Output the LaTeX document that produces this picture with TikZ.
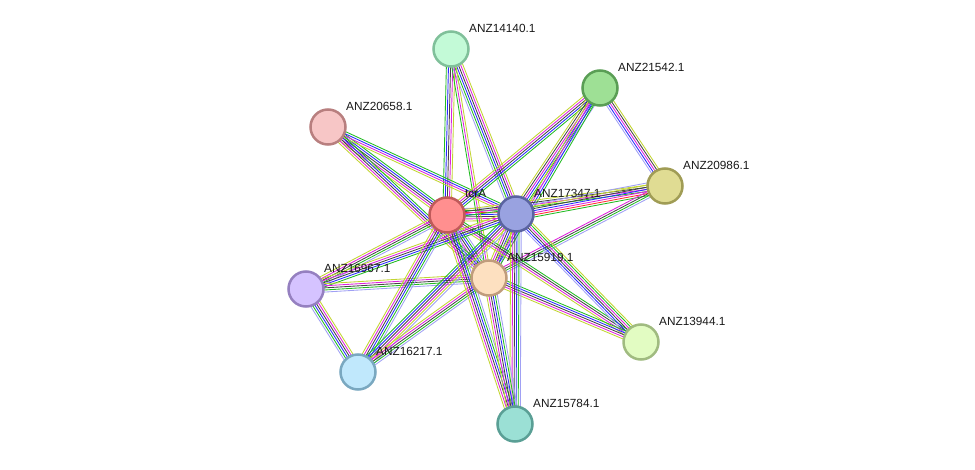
\documentclass[tikz,border=0pt]{standalone}
\usepackage{fontspec}
\setmainfont{Liberation Sans}
\usetikzlibrary{calc}
\pgfdeclarelayer{bg}
\pgfsetlayers{bg,main}
\definecolor{ehom}{HTML}{A0A0F4}
\definecolor{egre}{HTML}{22BB22}
\definecolor{eblu}{HTML}{2A2AFF}
\definecolor{eblk}{HTML}{444444}
\definecolor{emag}{HTML}{DD22DD}
\definecolor{eyel}{HTML}{C2D431}
\definecolor{efus}{HTML}{FF3030}
\definecolor{f14140}{HTML}{C3FAD7}\definecolor{d14140}{HTML}{80C09A}
\definecolor{f21542}{HTML}{9EE095}\definecolor{d21542}{HTML}{5A9E55}
\definecolor{f20658}{HTML}{F7C6C6}\definecolor{d20658}{HTML}{B87F7F}
\definecolor{f20986}{HTML}{E0DC93}\definecolor{d20986}{HTML}{A09C55}
\definecolor{ftcrA}{HTML}{FF8F8F}\definecolor{dtcrA}{HTML}{C05A5A}
\definecolor{f17347}{HTML}{99A2E0}\definecolor{d17347}{HTML}{5A63A0}
\definecolor{f15919}{HTML}{FDE0C0}\definecolor{d15919}{HTML}{C09C7C}
\definecolor{f16967}{HTML}{D5C3FF}\definecolor{d16967}{HTML}{9580C0}
\definecolor{f13944}{HTML}{E2FCC2}\definecolor{d13944}{HTML}{A0BB80}
\definecolor{f16217}{HTML}{C0E8FC}\definecolor{d16217}{HTML}{7AA8C0}
\definecolor{f15784}{HTML}{9BE0D5}\definecolor{d15784}{HTML}{5A9F95}
\newcommand\bund[4]{%
  \foreach \ecol [count=\i] in {#4}{%
    \pgfmathsetmacro\eoff{(\i-(#3+1)/2)*2.1}%
    \draw[\ecol,line width=0.85pt] ($(#1)!\eoff pt!90:(#2)$) -- ($(#2)!\eoff pt!-90:(#1)$);
  }}
\tikzset{
  pnode/.style={circle,draw,line width=2.5pt,minimum size=35pt,inner sep=0pt},
  lab/.style={anchor=west,inner sep=0pt,font=\fontsize{11.8}{13}\selectfont,text=black!90}
}
\begin{document}
\begin{tikzpicture}[x=1pt,y=-1pt]
\useasboundingbox (0,0) rectangle (975,470);
% nodes
\node[pnode,fill=f14140,draw=d14140] (n14140) at (451,49) {};
\node[pnode,fill=f21542,draw=d21542] (n21542) at (600,88) {};
\node[pnode,fill=f20658,draw=d20658] (n20658) at (328,127) {};
\node[pnode,fill=f20986,draw=d20986] (n20986) at (665,186) {};
\node[pnode,fill=ftcrA,draw=dtcrA] (tcrA) at (447,215) {};
\node[pnode,fill=f17347,draw=d17347] (n17347) at (516,214) {};
\node[pnode,fill=f15919,draw=d15919] (n15919) at (489,278) {};
\node[pnode,fill=f16967,draw=d16967] (n16967) at (306,289) {};
\node[pnode,fill=f13944,draw=d13944] (n13944) at (641,342) {};
\node[pnode,fill=f16217,draw=d16217] (n16217) at (358,372) {};
\node[pnode,fill=f15784,draw=d15784] (n15784) at (515,424) {};
% labels
\node[lab] (l14140) at ($(n14140)+(18,-21)$) {ANZ14140.1};
\node[lab] (l21542) at ($(n21542)+(18,-21)$) {ANZ21542.1};
\node[lab] (l20658) at ($(n20658)+(18,-21)$) {ANZ20658.1};
\node[lab] (l20986) at ($(n20986)+(18,-21)$) {ANZ20986.1};
\node[lab] (ltcrA) at ($(tcrA)+(18,-21)$) {tcrA};
\node[lab] (l17347) at ($(n17347)+(18,-21)$) {ANZ17347.1};
\node[lab] (l15919) at ($(n15919)+(18,-21)$) {ANZ15919.1};
\node[lab] (l16967) at ($(n16967)+(18,-21)$) {ANZ16967.1};
\node[lab] (l13944) at ($(n13944)+(18,-21)$) {ANZ13944.1};
\node[lab] (l16217) at ($(n16217)+(18,-21)$) {ANZ16217.1};
\node[lab] (l15784) at ($(n15784)+(18,-21)$) {ANZ15784.1};
% edges
\begin{pgfonlayer}{bg}
\bund{tcrA}{n17347}{7}{eyel,emag,eblk,eblu,efus,egre,ehom}
\bund{tcrA}{n15919}{6}{eyel,emag,eblk,eblu,egre,ehom}
\bund{n17347}{n15919}{6}{eyel,emag,eblk,eblu,egre,ehom}
\bund{tcrA}{n14140}{5}{eyel,emag,eblk,eblu,egre}
\bund{n17347}{n14140}{6}{eyel,emag,eblk,eblu,egre,ehom}
\bund{n15919}{n14140}{3}{eyel,emag,egre}
\bund{tcrA}{n20658}{5}{egre,eblu,eblk,emag,eyel}
\bund{n17347}{n20658}{4}{egre,eblu,emag,eyel}
\bund{n15919}{n20658}{5}{egre,eblu,eblk,emag,eyel}
\bund{tcrA}{n21542}{5}{egre,eblu,eblk,emag,eyel}
\bund{n17347}{n21542}{6}{ehom,egre,eblu,emag,eblk,eyel}
\bund{n15919}{n21542}{4}{egre,eblu,emag,eyel}
\bund{n21542}{n20986}{5}{ehom,eblu,emag,eblk,eyel}
\bund{tcrA}{n20986}{4}{egre,emag,eblk,eyel}
\bund{n17347}{n20986}{7}{egre,efus,emag,eblu,eblk,eyel,ehom}
\bund{n15919}{n20986}{4}{ehom,egre,eblk,emag}
\bund{tcrA}{n13944}{4}{eyel,emag,eblk,egre}
\bund{n17347}{n13944}{6}{ehom,eblu,eblk,emag,egre,eyel}
\bund{n15919}{n13944}{5}{eyel,emag,eblk,eblu,egre}
\bund{tcrA}{n16967}{5}{eyel,emag,eblk,egre,ehom}
\bund{n17347}{n16967}{5}{eyel,emag,eblk,eblu,egre}
\bund{n15919}{n16967}{5}{eyel,emag,eblk,egre,ehom}
\bund{n16967}{n16217}{6}{ehom,egre,eblu,eblk,emag,eyel}
\bund{tcrA}{n16217}{6}{eyel,emag,eblk,eblu,egre,ehom}
\bund{n17347}{n16217}{6}{egre,eblu,eblk,emag,eyel,ehom}
\bund{n15919}{n16217}{5}{eyel,emag,eblk,egre,ehom}
\bund{tcrA}{n15784}{6}{eyel,emag,eblk,eblu,egre,ehom}
\bund{n17347}{n15784}{6}{eyel,emag,eblk,eblu,egre,ehom}
\bund{n15919}{n15784}{6}{eyel,emag,eblk,eblu,egre,ehom}
\end{pgfonlayer}
\end{tikzpicture}
\end{document}
